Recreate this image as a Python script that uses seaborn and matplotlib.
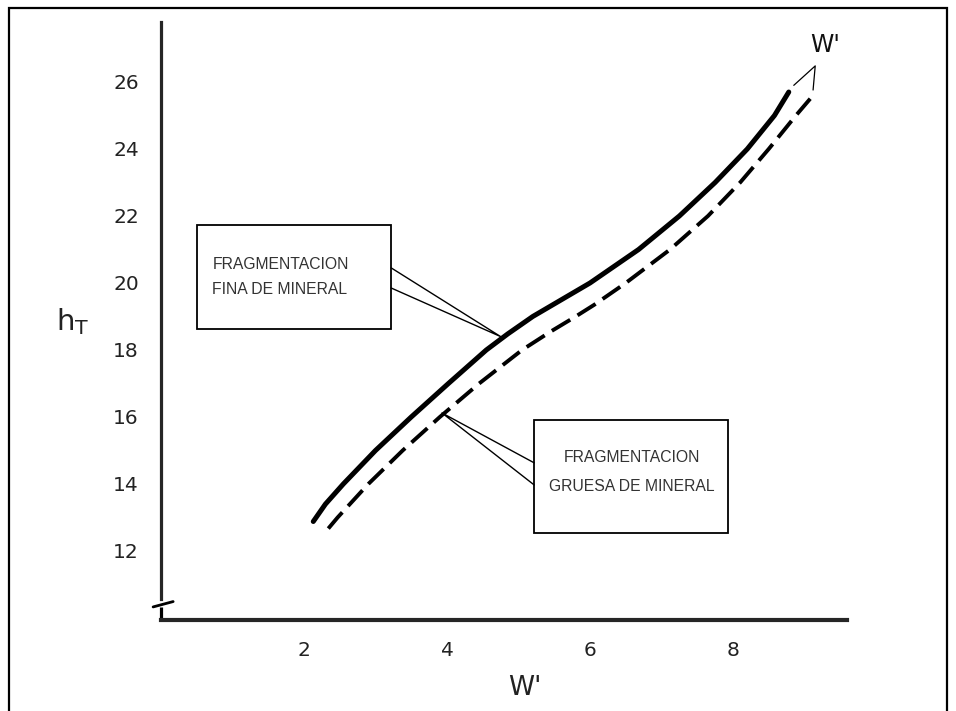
import seaborn as sns
import matplotlib.pyplot as plt
import matplotlib.patches as patches

# curve readings (W' vs h_T)
w_fina = [2.13, 2.30, 2.55, 3.00, 3.50, 4.02, 4.55, 4.85, 5.20, 5.60,
          6.00, 6.68, 7.25, 7.75, 8.20, 8.58, 8.78]
h_fina = [12.88, 13.40, 14.00, 15.00, 16.00, 17.00, 18.00, 18.48, 19.00, 19.50,
          20.00, 21.00, 22.00, 23.00, 24.00, 25.00, 25.70]

w_gruesa = [2.34, 2.47, 2.90, 3.38, 3.90, 4.45, 5.05, 5.45, 5.80, 6.06,
            6.50, 7.12, 7.65, 8.10, 8.50, 8.88, 9.08]
h_gruesa = [12.67, 13.00, 14.00, 15.00, 16.00, 17.00, 18.00, 18.55, 19.00, 19.35,
            20.00, 21.00, 22.00, 23.00, 24.00, 25.00, 25.50]

x_ticks = [2, 4, 6, 8]
y_ticks = [12, 14, 16, 18, 20, 22, 24, 26]

sns.set_style('white')
plt.rcParams['font.family'] = ['DejaVu Sans']

fig = plt.figure(figsize=(9.56, 7.11), dpi=100)
ax = fig.add_axes([0.1684, 0.128, 0.718, 0.8415])
ax.set_xlim(0, 9.6)
ax.set_ylim(9.94, 27.8)

sns.lineplot(x=w_fina, y=h_fina, ax=ax, sort=False, color='black',
             linewidth=3.6, solid_capstyle='round', solid_joinstyle='round')
sns.lineplot(x=w_gruesa, y=h_gruesa, ax=ax, sort=False, color='black',
             linewidth=2.8, dash_joinstyle='round')
ax.lines[-1].set_dashes((5.5, 2.2))

# axes
for s in ['top', 'right']:
    ax.spines[s].set_visible(False)
ax.spines['bottom'].set_linewidth(3)
ax.spines['left'].set_linewidth(2.3)
ax.spines['left'].set_bounds(10.56, 27.8)
ax.plot([0, 0], [10.33, 9.94], color='black', lw=2.3, clip_on=False,
        solid_capstyle='butt')
ax.plot([-0.11, 0.17], [10.33, 10.49], color='black', lw=2.0, clip_on=False)

ax.set_xticks(x_ticks)
ax.set_yticks(y_ticks)
ax.tick_params(axis='both', direction='out', length=8, width=1.3,
               color='black', labelcolor='#222222', labelsize=14.5)
ax.tick_params(axis='x', pad=7)
ax.tick_params(axis='y', pad=8)

# axis titles
ax.text(5.09, 7.9, "W'", fontsize=19, ha='center', va='center',
        color='#222222', clip_on=False)
ax.text(-1.24, 18.84, r'$\mathregular{h_T}$', fontsize=21, ha='center',
        va='center', color='#222222', clip_on=False)

# W' label at the top end of curves
ax.text(9.29, 27.1, "W'", fontsize=17, ha='center', va='center', color='#111111')
ax.plot([8.85, 9.15, 9.12], [25.9, 26.48, 25.76], color='black', lw=0.9)

# box: fina
ax.add_patch(patches.Rectangle((0.50, 18.63), 2.72, 3.10, fill=False,
                               edgecolor='black', lw=1.3))
ax.text(0.72, 20.55, 'FRAGMENTACION', fontsize=11.3, family='Liberation Sans',
        color='#333333', ha='left', va='center')
ax.text(0.72, 19.80, 'FINA DE MINERAL', fontsize=11.3, family='Liberation Sans',
        color='#333333', ha='left', va='center')
ax.plot([3.22, 4.75, 3.22], [20.45, 18.40, 19.85], color='black', lw=1.0)

# box: gruesa
ax.add_patch(patches.Rectangle((5.22, 12.54), 2.71, 3.37, fill=False,
                               edgecolor='black', lw=1.3))
ax.text(6.58, 14.80, 'FRAGMENTACION', fontsize=11.3, family='Liberation Sans',
        color='#333333', ha='center', va='center')
ax.text(6.58, 13.93, 'GRUESA DE MINERAL', fontsize=11.3, family='Liberation Sans',
        color='#333333', ha='center', va='center')
ax.plot([5.22, 3.93, 5.22], [14.63, 16.12, 13.97], color='black', lw=1.0)

# frame around the whole picture
fig.patches.append(patches.Rectangle((0.0094, -0.02), 0.9812, 1.0087,
                                     transform=fig.transFigure, fill=False,
                                     edgecolor='black', lw=1.6))

fig.savefig('out.png', dpi=100)
